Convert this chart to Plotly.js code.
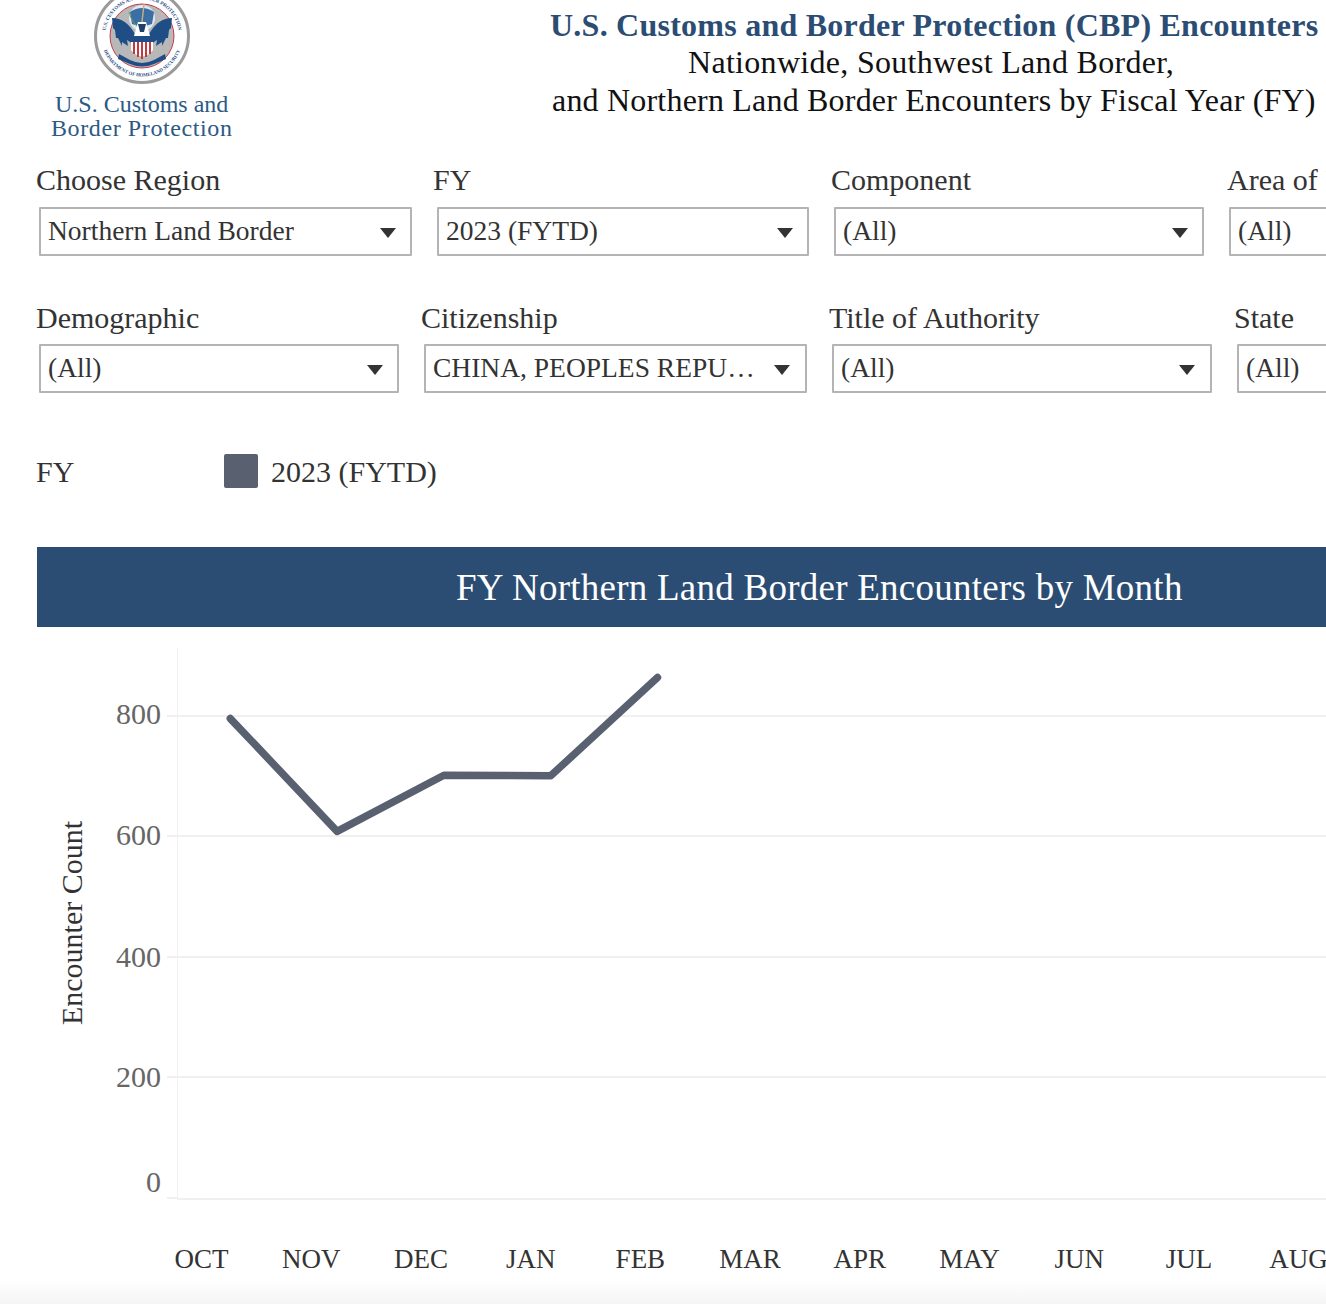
<!DOCTYPE html>
<html><head><meta charset="utf-8">
<script src="https://cdn.plot.ly/plotly-3.0.1.min.js"></script>
<style>
html,body{margin:0;padding:0;background:#fff;width:1326px;height:1304px;overflow:hidden;font-family:"Liberation Serif",serif;}
#chart{position:absolute;left:0;top:0;width:1326px;height:1304px;}
.t{position:absolute;white-space:nowrap;line-height:1;color:#333;}
.box{position:absolute;height:45px;border:2px solid #b4b4b4;box-sizing:content-box;background:#fff;overflow:hidden;border-radius:1px;}
.box span{position:absolute;left:7px;top:8px;font-size:27.5px;line-height:1;color:#333;white-space:nowrap;}
.arr{position:absolute;width:0;height:0;border-left:8px solid transparent;border-right:8px solid transparent;border-top:10px solid #333;}
#fade{position:absolute;left:0;top:1279px;width:1326px;height:25px;background:linear-gradient(#fff,#f5f5f5);}
#chart .js-line{stroke-linecap:round !important;stroke-linejoin:round !important;}
</style></head><body>
<div id="fade"></div>
<div id="chart"></div>
<div id="head"></div>
<script>
var months=['OCT','NOV','DEC','JAN','FEB','MAR','APR','MAY','JUN','JUL','AUG','SEP'];
var monthIndex=[0,1,2,3,4,5,6,7,8,9,10,11];
var series2023=[795,608,701,700,863];
var seriesName='2023 (FYTD)';
var yTicks=[0,200,400,600,800];
var headerLines=['U.S. Customs and Border Protection (CBP) Encounters','Nationwide, Southwest Land Border,','and Northern Land Border Encounters by Fiscal Year (FY)'];
var filters=[
 ['Choose Region','Northern Land Border',36,39,373,380],
 ['FY','2023 (FYTD)',433,437,372,777],
 ['Component','(All)',831,834,370,1172],
 ['Area of Responsibility','(All)',1227,1229,200,null],
 ['Demographic','(All)',36,39,360,367],
 ['Citizenship','CHINA, PEOPLES REPU\u2026',421,424,383,774],
 ['Title of Authority','(All)',829,832,380,1179],
 ['State','(All)',1234,1237,200,null]
];
var head=document.getElementById('head');
function add(html){head.insertAdjacentHTML('beforeend',html);}
add('<svg style="position:absolute;left:92px;top:-12px" width="100" height="100" viewBox="0 0 100 100">'
 +'<circle cx="50" cy="48" r="46.5" fill="#fff" stroke="#9a9a9a" stroke-width="3"/>'
 +'<circle cx="50" cy="48" r="32" fill="#b8b8b8" stroke="#c8384a" stroke-width="1"/>'
 +'<circle cx="50" cy="30" r="13" fill="#dfe8f2"/>'
 +'<path d="M38 24 Q50 16 62 24 L60 36 Q50 40 40 36 Z" fill="#3a6ea5"/>'
 +'<path d="M52 16 L49 43" stroke="#c9b27a" stroke-width="1.4"/>'
 +'<path d="M37 24 Q40 36 50 42" stroke="#6a9a5a" stroke-width="1" fill="none"/>'
 +'<path d="M20 30 Q34 30 43 46 L41 56 L35 52 L36 58 L30 54 L30 58 L26 50 L24 50 L23 42 L21 40 Z" fill="#1f4e86"/>'
 +'<path d="M80 30 Q66 30 57 46 L59 56 L65 52 L64 58 L70 54 L70 58 L74 50 L76 50 L77 42 L79 40 Z" fill="#1f4e86"/>'
 +'<path d="M46 34 L54 34 L58 48 H42 Z" fill="#fff"/><path d="M46 36 L54 36 L52 44 H48 Z" fill="#1f3f6b"/>'
 +'<path d="M39 48 H61 V62 Q50 75 39 62 Z" fill="#fff"/>'
 +'<path d="M42 54 V66 M46 54 V69 M50 54 V71 M54 54 V69 M58 54 V66" stroke="#c03a3f" stroke-width="2"/>'
 +'<rect x="39" y="48" width="22" height="6" fill="#1f4e86"/>'
 +'<path d="M27 66 L38 72 Q50 78 62 72 L73 66 L74 71 L62 76 Q50 81 38 76 L26 71 Z" fill="#1f4e86"/>'
 +'<path id="ringTop" d="M13.1 51 A37 37 0 1 1 86.9 51" fill="none"/>'
 +'<path id="ringBot" d="M11.3 61 A41 41 0 0 0 88.7 61" fill="none"/>'
 +'<text font-family="Liberation Serif" font-size="5" fill="#1f4e86" font-weight="bold" text-anchor="middle"><textPath href="#ringTop" startOffset="50%">U.S. CUSTOMS AND BORDER PROTECTION</textPath></text>'
 +'<text font-family="Liberation Serif" font-size="4.8" fill="#1f4e86" font-weight="bold" text-anchor="middle"><textPath href="#ringBot" startOffset="50%">DEPARTMENT OF HOMELAND SECURITY</textPath></text>'
 +'</svg>');
add('<div class="t" style="left:55px;top:92px;font-size:24px;color:#2c5a85">U.S. Customs and</div>');
add('<div class="t" style="left:51px;top:116px;font-size:24px;letter-spacing:.6px;color:#2c5a85">Border Protection</div>');
add('<div class="t" style="left:550px;top:9px;font-size:32px;font-weight:bold;letter-spacing:.24px;color:#2c4d73">'+headerLines[0]+'</div>');
add('<div class="t" style="left:688px;top:46px;font-size:32px;letter-spacing:.3px;color:#111">'+headerLines[1]+'</div>');
add('<div class="t" style="left:552px;top:84px;font-size:32px;letter-spacing:.2px;color:#111">'+headerLines[2]+'</div>');
filters.forEach(function(f,i){
  var rowTop=i<4?165:303, boxTop=i<4?207:344;
  add('<div class="t" style="left:'+f[2]+'px;top:'+rowTop+'px;font-size:30px">'+f[0]+'</div>');
  add('<div class="box" style="left:'+f[3]+'px;top:'+boxTop+'px;width:'+(f[4]-4)+'px"><span>'+f[1]+'</span></div>');
  if(f[5]) add('<div class="arr" style="left:'+f[5]+'px;top:'+(boxTop+21)+'px"></div>');
});
add('<div class="t" style="left:36px;top:457px;font-size:30px">FY</div>');
add('<div style="position:absolute;left:224px;top:454px;width:34px;height:34px;background:#596170;border-radius:2px"></div>');
add('<div class="t" style="left:271px;top:457px;font-size:30px">'+seriesName+'</div>');
add('<div style="position:absolute;left:37px;top:547px;width:1289px;height:80px;background:#2c4d73"></div>');
add('<div class="t" style="left:456px;top:569px;font-size:37px;letter-spacing:.25px;color:#fff">FY Northern Land Border Encounters by Month</div>');

var W=1326,H=1304,L=178,T=648,B=1198;
var yLabelLift={0:17,200:1,400:0,600:2,800:2};
Plotly.newPlot('chart',[
 {x:months.slice(0,series2023.length).map(function(m){return monthIndex[months.indexOf(m)];}),y:series2023,type:'scatter',mode:'lines',name:seriesName,
  line:{color:'#596170',width:7.5},hoverinfo:'x+y',xaxis:'x',yaxis:'y'},
 {x:monthIndex,y:monthIndex.map(function(){return null;}),type:'scatter',mode:'lines',xaxis:'x2',yaxis:'y',showlegend:false,hoverinfo:'skip'}
],{
 width:W,height:H,paper_bgcolor:'rgba(0,0,0,0)',plot_bgcolor:'rgba(0,0,0,0)',showlegend:false,
 margin:{l:L,r:0,t:T,b:H-B,pad:0},
 font:{family:'"Liberation Serif",serif'},
 xaxis:{type:'linear',range:[-0.49,10.26],showticklabels:false,showgrid:false,zeroline:false,ticks:'',showline:true,linecolor:'#f0f0f0',linewidth:2,mirror:false},
 xaxis2:{type:'linear',overlaying:'x',side:'bottom',anchor:'y',range:[-0.215,10.25],tickmode:'array',tickvals:monthIndex,ticktext:months,
   showgrid:false,zeroline:false,ticks:'',showline:false,tickfont:{size:27,color:'#333'},automargin:false,tickangle:0,
   ticklabelstandoff:42,ticklabeloverflow:'allow'},
 yaxis:{range:[0,912],tickmode:'array',tickvals:yTicks,showticklabels:false,
   showgrid:true,gridcolor:'#f0f0f0',gridwidth:2,zeroline:false,showline:true,linecolor:'#f0f0f0',linewidth:1,
   ticks:'outside',ticklen:10,tickwidth:2,tickcolor:'#f0f0f0',
   title:{text:'Encounter Count',font:{size:30,color:'#333'},standoff:75}},
 annotations:yTicks.map(function(v){return {xref:'paper',yref:'y',x:0,y:v,xanchor:'right',yanchor:'middle',xshift:-15,yshift:yLabelLift[v],
   text:String(v),showarrow:false,font:{size:30,color:'#666'}};})
},{displayModeBar:false,staticPlot:true});
</script></body></html>
